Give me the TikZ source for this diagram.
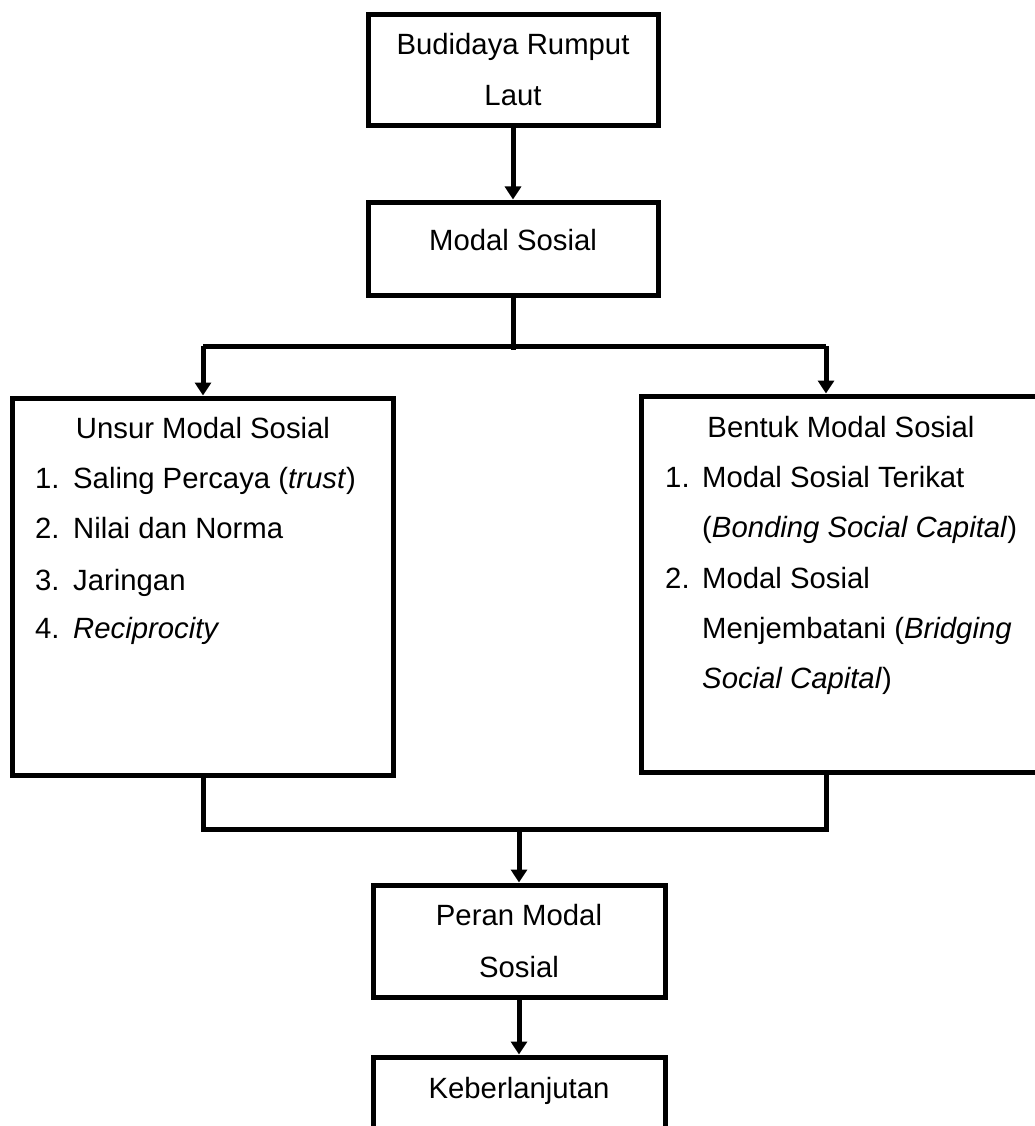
\documentclass[tikz,border=0pt]{standalone}
\usepackage{fontspec}
\setmainfont{Liberation Sans}
\usetikzlibrary{arrows.meta}
\begin{document}
\begin{tikzpicture}[x=1pt,y=-1pt,
 box/.style={draw, line width=5pt, rectangle, inner sep=0pt},
 conn/.style={line width=5pt},
 arr/.style={conn, -{Triangle[width=16pt,length=13pt]}},
 txt/.style={font=\fontsize{29.3}{50}\selectfont, inner sep=0pt, anchor=base},
 ltxt/.style={txt, anchor=base west}]
\useasboundingbox (0,0) rectangle (1035,1126);
\clip (0,0) rectangle (1035,1126);
% boxes
\node[box, minimum width=290pt, minimum height=111pt] (top) at (513,70.5) {};
\node[box, minimum width=290pt, minimum height=93pt] (modal) at (513,248.5) {};
\node[box, minimum width=381pt, minimum height=377pt] (lbox) at (202.5,586.5) {};
\node[box, minimum width=409pt, minimum height=376pt] (rbox) at (845.5,584) {};
\node[box, minimum width=292pt, minimum height=112pt] (peran) at (519,941) {};
\node[box, minimum width=292pt, minimum height=112pt] (keb) at (519,1113) {};
% texts
\node[txt] (t1) at (513,55) {Budidaya Rumput};
\node[txt] (t2) at (513,106) {Laut};
\node[txt] (t3) at (513,250) {Modal Sosial};
\node[txt] (l0) at (203,438) {Unsur Modal Sosial};
\node[ltxt] (l1n) at (35,488) {1.};
\node[ltxt] (l1) at (73,488) {Saling Percaya (\textit{trust})};
\node[ltxt] (l2n) at (35,538) {2.};
\node[ltxt] (l2) at (73,538) {Nilai dan Norma};
\node[ltxt] (l3n) at (35,590) {3.};
\node[ltxt] (l3) at (73,590) {Jaringan};
\node[ltxt] (l4n) at (35,638) {4.};
\node[ltxt] (l4) at (73,638) {\textit{Reciprocity}};
\node[txt] (r0) at (841,437) {Bentuk Modal Sosial};
\node[ltxt] (r1n) at (665,487) {1.};
\node[ltxt] (r1) at (702,487) {Modal Sosial Terikat};
\node[ltxt] (r1b) at (702,537) {(\textit{Bonding Social Capital})};
\node[ltxt] (r2n) at (665,588) {2.};
\node[ltxt] (r2) at (702,588) {Modal Sosial};
\node[ltxt] (r2b) at (702,638) {Menjembatani (\textit{Bridging}};
\node[ltxt] (r2c) at (702,688) {\textit{Social Capital})};
\node[txt] (p1) at (519,925) {Peran Modal};
\node[txt] (p2) at (519,977) {Sosial};
\node[txt] (k1) at (519,1098) {Keberlanjutan};
% junctions
\coordinate (jm) at (513,350);
\coordinate (jl) at (203,346);
\coordinate (jr) at (826,346);
\coordinate (bl) at (203,829);
\coordinate (br) at (826,829);
\coordinate (bm) at (519,829);
% connectors
\draw[arr] (top.south) -- (modal.north);
\draw[conn] (modal.south) -- (jm);
\draw[conn] (jl) -- (jr);
\draw[arr] (jl) -- (jl |- lbox.north);
\draw[arr] (jr) -- (jr |- rbox.north);
\draw[conn] (bl |- lbox.south) -- (bl) -- (br) -- (br |- rbox.south);
\draw[arr] (bm) -- (peran.north);
\draw[arr] (peran.south) -- (keb.north);
\end{tikzpicture}
\end{document}
